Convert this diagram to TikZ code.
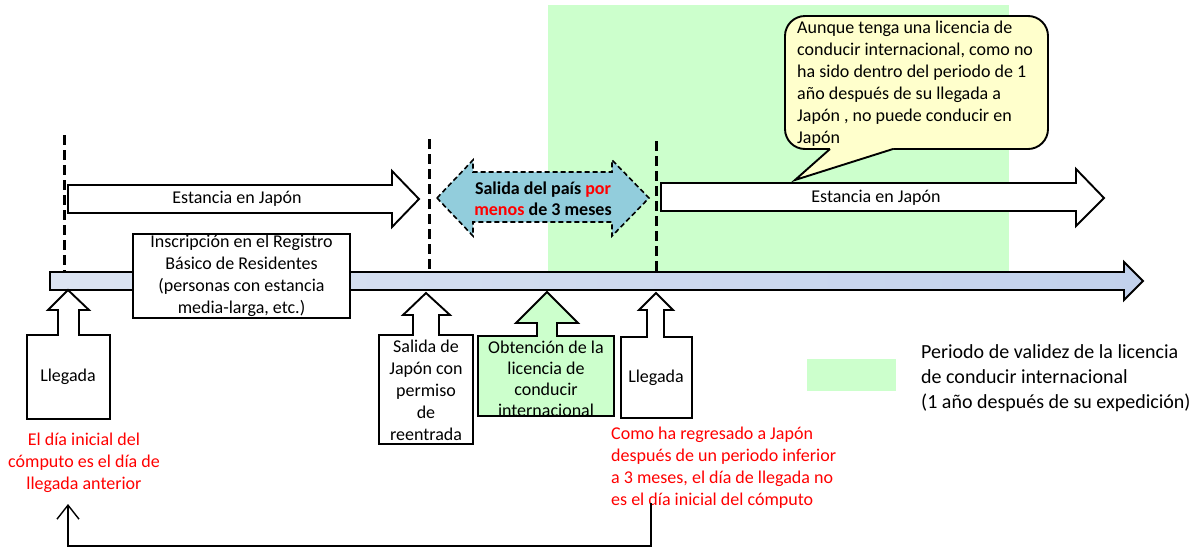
\documentclass[tikz,border=0pt]{standalone}
\usepackage{fontspec}
\setmainfont{Carlito}
\usetikzlibrary{arrows.meta}
\definecolor{lgreen}{HTML}{CCFFCC}
\definecolor{lyellow}{HTML}{FFFFCC}
\definecolor{hexblue}{HTML}{92CDDC}
\definecolor{tlL}{HTML}{DCE4F2}
\definecolor{tlM}{HTML}{D6D8DC}
\definecolor{tlR}{HTML}{C2D1EC}
\definecolor{redtxt}{HTML}{FF0000}
\tikzset{
  txt/.style={font=\fontsize{18}{22}\selectfont, inner sep=0pt, align=center},
  outl/.style={draw=black, line width=1.9pt, line join=miter},
  vdashline/.style={line width=3pt, dash pattern=on 10pt off 5pt},
  redlabel/.style={txt, text=redtxt},
}
\begin{document}
\begin{tikzpicture}[x=1pt,y=-1pt]
\useasboundingbox (0,0) rectangle (1199,547);
% validity period background
\fill[lgreen] (548,5) rectangle (1009,272);
% timeline
\path[outl, left color=tlL, middle color=tlM, right color=tlR]
  (50,272) -- (1124,272) -- (1124,262) -- (1143,281) -- (1124,300) -- (1124,290) -- (50,290) -- cycle;
% dashed markers
\draw[vdashline] (64,135) -- (64,272);
\draw[vdashline] (429,139) -- (429,272);
\draw[vdashline] (656,141) -- (656,272);
% stay arrow 1
\path[outl, fill=white] (68,185) -- (392,185) -- (392,171) -- (419,199) -- (392,227) -- (392,213) -- (68,213) -- cycle;
\node[txt] (stay1) at (237,199) {Estancia en Japón};
% stay arrow 2
\path[outl, fill=white] (661,183) -- (1076,183) -- (1076,169) -- (1104,198) -- (1076,226) -- (1076,211) -- (661,211) -- cycle;
\node[txt] (stay2) at (876,198) {Estancia en Japón};
% departure double arrow
\path[draw=black, line width=1.6pt, dash pattern=on 5pt off 3pt, fill=hexblue]
  (437,198) -- (473,160) -- (473,172) -- (612,172) -- (612,160) -- (649,198) -- (612,236) -- (612,222) -- (473,222) -- (473,236) -- cycle;
\node[txt, font=\fontsize{18}{21}\selectfont\bfseries] (away) at (543,198.5)
  {Salida del país \textcolor{redtxt}{por}\\\textcolor{redtxt}{menos} de 3 meses};
% speech bubble
\path[outl, fill=lyellow, rounded corners=20pt] (785,16) rectangle (1048,149);
\fill[lyellow] (830,146) -- (893,146) -- (893,149.5) -- (795,180) -- (830,149.5) -- cycle;
\draw[line width=1.9pt] (830,149) -- (795,180) -- (893,149);
\node[txt, align=left, anchor=west] (note) at (797,84)
  {Aunque tenga una licencia de\\conducir internacional, como no\\ha sido dentro del periodo de 1\\año después de su llegada a\\Japón , no puede conducir en\\Japón};
% residents registry box
\node[txt, outl, fill=white, minimum width=217pt, minimum height=84pt] (insc) at (241.5,276)
  {Inscripción en el Registro\\Básico de Residentes\\(personas con estancia\\media-larga, etc.)};
% up callouts
\path[outl, fill=white] (27,419) -- (27,335) -- (58,335) -- (58,310) -- (48,310) -- (68,290) -- (89,310) -- (79,310) -- (79,335) -- (110,335) -- (110,419) -- cycle;
\node[txt] (arr1) at (68,377) {Llegada};
\path[outl, fill=white] (379,444) -- (379,335) -- (413,335) -- (413,315) -- (403,315) -- (426,293) -- (450,315) -- (439,315) -- (439,335) -- (473,335) -- (473,444) -- cycle;
\node[txt] (dep) at (426,390) {Salida de\\Japón con\\permiso\\de\\reentrada};
\path[outl, fill=lgreen] (478,416) -- (478,336) -- (537,336) -- (537,323) -- (516,323) -- (547,292) -- (578,323) -- (557,323) -- (557,336) -- (614,336) -- (614,416) -- cycle;
\node[txt, font=\fontsize{18}{21}\selectfont] (obt) at (546,379) {Obtención de la\\licencia de\\conducir\\internacional};
\path[outl, fill=white] (621,418) -- (621,337) -- (647,337) -- (647,310) -- (639,310) -- (656,293) -- (673,310) -- (664,310) -- (664,337) -- (692,337) -- (692,418) -- cycle;
\node[txt] (arr2) at (656,378) {Llegada};
% red notes
\node[redlabel] (lnote) at (84,463) {El día inicial del\\cómputo es el día de\\llegada anterior};
\node[redlabel, align=left, anchor=west] (rnote) at (611,467.5)
  {Como ha regresado a Japón\\después de un periodo inferior\\a 3 meses, el día de llegada no\\es el día inicial del cómputo};
% legend
\fill[lgreen] (807,359) rectangle (896,391);
\node[txt, font=\fontsize{20}{25}\selectfont, align=left, anchor=west] (legend) at (921,378)
  {Periodo de validez de la licencia\\de conducir internacional\\(1 año después de su expedición)};
% back-reference connector
\coordinate (cstart) at (651,503);
\coordinate (cend) at (68,504);
\draw[line width=1.4pt, -{Straight Barb[length=14pt,width=22pt]}] (cstart) -- ++(0,43) -| (cend);
\end{tikzpicture}
\end{document}
